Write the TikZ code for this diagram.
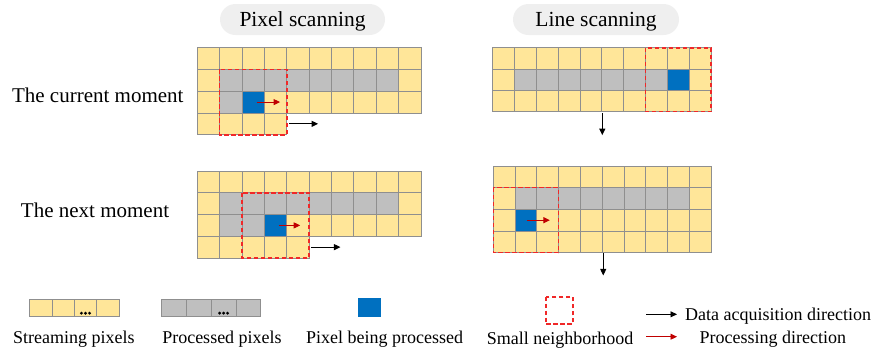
\documentclass[tikz,border=0pt]{standalone}
\usepackage{fontspec}
\setmainfont{Liberation Serif}
\usetikzlibrary{arrows.meta}
\definecolor{ylw}{HTML}{FFE699}
\definecolor{procgray}{HTML}{BFBFBF}
\definecolor{pblue}{HTML}{0070C0}
\definecolor{gridgray}{HTML}{8F8F8F}
\definecolor{nbred}{HTML}{F02828}
\definecolor{darkred}{HTML}{C00000}
\definecolor{pillgray}{HTML}{EFEFEF}
\tikzset{
  cell/.style={draw=gridgray, line width=0.8pt, fill=ylw},
  nbhd/.style={draw=nbred, line width=1.6pt, dash pattern=on 4.5pt off 2.5pt},
  dataarrow/.style={-{Triangle[length=6.5pt,width=6pt]}, line width=0.9pt, black},
  procarrow/.style={-{Triangle[length=6.5pt,width=6pt]}, line width=0.9pt, darkred},
  pill/.style={fill=pillgray, rounded corners=15.5pt},
  titletext/.style={font=\fontsize{21.5}{24}\selectfont, anchor=base},
  rowlabel/.style={font=\fontsize{21}{24}\selectfont, anchor=base},
  legtext/.style={font=\fontsize{18}{20}\selectfont, anchor=base},
  dot/.style={fill=black, circle, inner sep=0pt, minimum size=3.2pt},
}
\begin{document}
\begin{tikzpicture}[x=1pt,y=-1pt]
\useasboundingbox (0,0) rectangle (875,354);

% titles
\path[pill] (220,4) rectangle (385,35);
\node[titletext] (t1) at (302.5,26) {Pixel scanning};
\path[pill] (513,4) rectangle (679,35);
\node[titletext] (t2) at (596,26) {Line scanning};

% row labels
\node[rowlabel] (l1) at (97.8,102.7) {The current moment};
\node[rowlabel] (l2) at (95,217.7) {The next moment};

% ---- Pixel scanning, current moment
\begin{scope}[shift={(197.3,47.7)}, x=22.37pt, y=-21.75pt]
  \foreach \r in {0,1,2} \foreach \c in {0,...,9} \path[cell] (\c,\r) rectangle ++(1,1);
  \foreach \c in {0,...,3} \path[cell] (\c,3) rectangle ++(1,1);
  \foreach \c in {1,...,8} \path[cell, fill=procgray] (\c,1) rectangle ++(1,1);
  \path[cell, fill=procgray] (1,2) rectangle ++(1,1);
  \path[cell, fill=pblue] (2,2) rectangle ++(1,1);
  \coordinate (n1a) at (1,1); \coordinate (n1b) at (4,4);
  \coordinate (a1s) at (2.65,2.5); \coordinate (a1e) at (3.7,2.5);
  \coordinate (b1s) at (4.1,3.5); \coordinate (b1e) at (5.4,3.5);
\end{scope}
\draw[nbhd] (n1a) rectangle (n1b);
\draw[procarrow] (a1s) -- (a1e);
\draw[dataarrow] (b1s) -- (b1e);

% ---- Pixel scanning, next moment
\begin{scope}[shift={(197.3,171)}, x=22.37pt, y=-21.75pt]
  \foreach \r in {0,1,2} \foreach \c in {0,...,9} \path[cell] (\c,\r) rectangle ++(1,1);
  \foreach \c in {0,...,4} \path[cell] (\c,3) rectangle ++(1,1);
  \foreach \c in {1,...,8} \path[cell, fill=procgray] (\c,1) rectangle ++(1,1);
  \foreach \c in {1,2} \path[cell, fill=procgray] (\c,2) rectangle ++(1,1);
  \path[cell, fill=pblue] (3,2) rectangle ++(1,1);
  \coordinate (n2a) at (2,1); \coordinate (n2b) at (5,4);
  \coordinate (a2s) at (3.65,2.5); \coordinate (a2e) at (4.6,2.5);
  \coordinate (b2s) at (5.1,3.5); \coordinate (b2e) at (6.4,3.5);
\end{scope}
\draw[nbhd] (n2a) rectangle (n2b);
\draw[procarrow] (a2s) -- (a2e);
\draw[dataarrow] (b2s) -- (b2e);

% ---- Line scanning, current moment
\begin{scope}[shift={(492.7,47.7)}, x=21.83pt, y=-21.33pt]
  \foreach \r in {0,1,2} \foreach \c in {0,...,9} \path[cell] (\c,\r) rectangle ++(1,1);
  \foreach \c in {1,...,7} \path[cell, fill=procgray] (\c,1) rectangle ++(1,1);
  \path[cell, fill=pblue] (8,1) rectangle ++(1,1);
  \coordinate (n3a) at (7,0); \coordinate (n3b) at (10,3);
  \coordinate (b3s) at (5.02,3.07); \coordinate (b3e) at (5.02,4.1);
\end{scope}
\draw[nbhd] (n3a) rectangle (n3b);
\draw[dataarrow] (b3s) -- (b3e);

% ---- Line scanning, next moment
\begin{scope}[shift={(493.3,166)}, x=21.77pt, y=-21.67pt]
  \foreach \r in {0,...,3} \foreach \c in {0,...,9} \path[cell] (\c,\r) rectangle ++(1,1);
  \foreach \c in {1,...,8} \path[cell, fill=procgray] (\c,1) rectangle ++(1,1);
  \path[cell, fill=pblue] (1,2) rectangle ++(1,1);
  \coordinate (n4a) at (0,1); \coordinate (n4b) at (3,4);
  \coordinate (a4s) at (1.55,2.5); \coordinate (a4e) at (2.6,2.5);
  \coordinate (b4s) at (5.05,4.03); \coordinate (b4e) at (5.05,5.05);
\end{scope}
\draw[nbhd] (n4a) rectangle (n4b);
\draw[procarrow] (a4s) -- (a4e);
\draw[dataarrow] (b4s) -- (b4e);

% ---- Legend
\begin{scope}[shift={(29.5,299)}, x=22.4pt, y=-17.7pt]
  \foreach \c in {0,...,3} \path[cell] (\c,0) rectangle ++(1,1);
  \foreach \d in {-0.18,0,0.18} \node[dot] at (2.5+\d,0.8) {};
\end{scope}
\node[legtext] (s1) at (73.8,343.5) {Streaming pixels};

\begin{scope}[shift={(161.7,299)}, x=24.75pt, y=-17.7pt]
  \foreach \c in {0,...,3} \path[cell, fill=procgray] (\c,0) rectangle ++(1,1);
  \foreach \d in {-0.16,0,0.16} \node[dot] at (2.5+\d,0.8) {};
\end{scope}
\node[legtext] (s2) at (222,343.5) {Processed pixels};

\path[fill=pblue] (358.3,298.3) rectangle (380.7,316.7);
\node[legtext] (s3) at (384.5,343.5) {Pixel being processed};

\draw[nbhd] (545.7,296.7) rectangle (572.7,324);
\node[legtext] (s4) at (560,344) {Small neighborhood};

\coordinate (ld1) at (646,314.3); \coordinate (ld2) at (677,314.3);
\draw[dataarrow] (ld1) -- (ld2);
\node[legtext, anchor=base west, inner sep=0pt] (s5) at (685,320) {Data acquisition direction};
\coordinate (lp1) at (646,336.7); \coordinate (lp2) at (677,336.7);
\draw[procarrow] (lp1) -- (lp2);
\node[legtext] (s6) at (772.8,343.3) {Processing direction};
\end{tikzpicture}
\end{document}
